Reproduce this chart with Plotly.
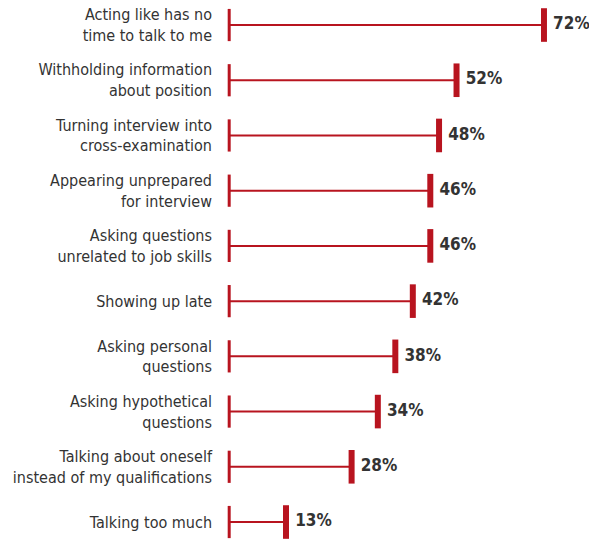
import plotly.graph_objects as go

categories = [
    "Acting like has no<br>time to talk to me",
    "Withholding information<br>about position",
    "Turning interview into<br>cross-examination",
    "Appearing unprepared<br>for interview",
    "Asking questions<br>unrelated to job skills",
    "Showing up late",
    "Asking personal<br>questions",
    "Asking hypothetical<br>questions",
    "Talking about oneself<br>instead of my qualifications",
    "Talking too much",
]
values = [72, 52, 48, 46, 46, 42, 38, 34, 28, 13]
value_labels = [f"{v}%" for v in values]

RED = "#b8141f"
FONT = "DejaVu Sans Condensed, Liberation Sans Narrow, Arial Narrow, sans-serif"
ys = list(range(len(categories)))

lx, ly = [], []
for y, v in zip(ys, values):
    lx += [0, v, None]
    ly += [y, y, None]

fig = go.Figure()
fig.add_trace(go.Scatter(x=lx, y=ly, mode="lines", line=dict(color=RED, width=2),
                         hoverinfo="skip", cliponaxis=False))
fig.add_trace(go.Scatter(x=[0] * len(values), y=ys, mode="markers",
                         marker=dict(symbol="line-ns", size=23, line=dict(color=RED, width=3)),
                         hoverinfo="skip", cliponaxis=False))
fig.add_trace(go.Scatter(x=values, y=ys, mode="markers",
                         marker=dict(symbol="line-ns", size=24, line=dict(color=RED, width=6)),
                         hoverinfo="skip", cliponaxis=False))
fig.add_trace(go.Scatter(x=values, y=ys, mode="markers+text", text=value_labels,
                         textposition="middle right",
                         textfont=dict(family=FONT, size=17, color="#333333", weight="bold"),
                         marker=dict(size=13, color="rgba(0,0,0,0)"),
                         hoverinfo="skip", cliponaxis=False))

fig.update_layout(
    width=589, height=543,
    margin=dict(l=227, r=0, t=0, b=0),
    paper_bgcolor="white", plot_bgcolor="white",
    showlegend=False,
    xaxis=dict(range=[-0.5, 82.3], visible=False, fixedrange=True),
    yaxis=dict(range=[9.38, -0.453], tickvals=ys, ticktext=categories,
               showgrid=False, zeroline=False, showline=False, ticks="",
               ticklabelstandoff=14, fixedrange=True,
               tickfont=dict(family=FONT, size=16, color="#333333")),
)
fig.write_html("out.html", config={"displayModeBar": False},
               post_script="document.body.style.margin='0';")
